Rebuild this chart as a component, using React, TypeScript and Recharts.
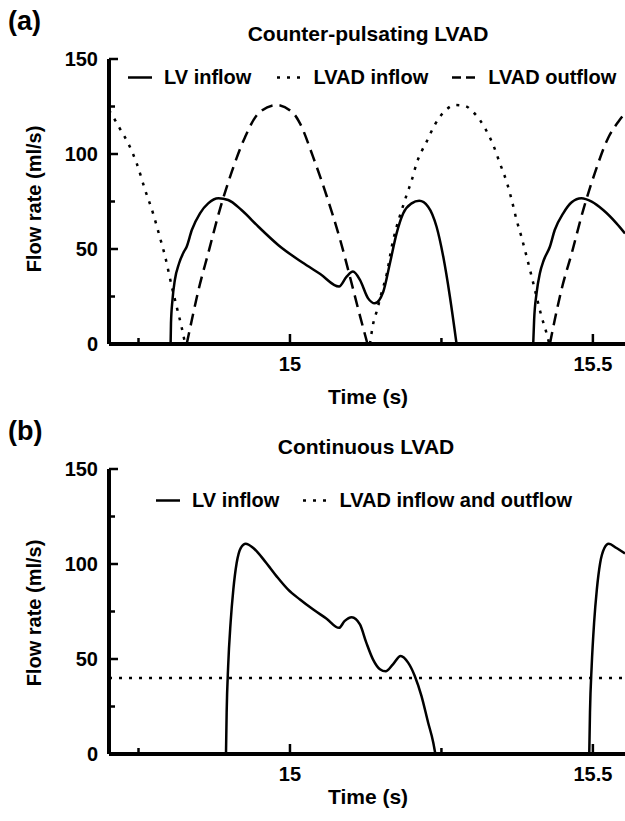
import React from 'react';
import { LineChart, Line, XAxis, YAxis } from 'recharts';

// [time (s), flow (ml/s)]; null = curve sits on the axis
type Pt = [number, number | null];

const lvInflowA: Pt[] = [
  [14.803, 0], [14.8036, 11], [14.806, 23], [14.81, 33.7], [14.817, 42.5], [14.825, 48.6],
  [14.8295, 51.2], [14.838, 60], [14.8515, 68.8], [14.865, 74], [14.882, 76.7], [14.898, 75.8],
  [14.92, 70.5], [14.948, 61.7], [14.981, 52], [15.02, 43], [15.05, 36.8], [15.081, 30.2],
  [15.0935, 35.4], [15.104, 38.1], [15.1155, 33.7], [15.129, 24], [15.14, 21.4], [15.154, 27.5],
  [15.165, 42.5], [15.176, 58.2], [15.187, 68.8], [15.2008, 74], [15.2134, 75.4], [15.228, 72.3],
  [15.242, 61.7], [15.253, 46], [15.264, 24.9], [15.275, 0],
  [15.34, null],
  [15.4015, 0], [15.403, 12.6], [15.407, 26.7], [15.4125, 37.2], [15.419, 44.2], [15.429, 51.2],
  [15.437, 60], [15.451, 68.8], [15.465, 74.6], [15.481, 76.7], [15.498, 74.9], [15.517, 70.5],
  [15.539, 63.5], [15.553, 58.2],
];

const lvadInflowA: Pt[] = [
  [14.7013, 123], [14.711, 118], [14.719, 113.5], [14.733, 105.6], [14.747, 95.1], [14.761, 81],
  [14.774, 68.8], [14.785, 56.5], [14.794, 46], [14.805, 30.2], [14.813, 19.6], [14.821, 9.1],
  [14.827, 0],
  [14.98, null],
  [15.132, 0], [15.1375, 10.9], [15.143, 17], [15.151, 26.7], [15.16, 37.2], [15.168, 51.2],
  [15.176, 61.7], [15.184, 70], [15.1926, 78.5], [15.2008, 86], [15.209, 95.1], [15.217, 101.2],
  [15.2256, 106.5], [15.232, 110.9], [15.239, 115.3], [15.2475, 119.6], [15.2586, 123.5],
  [15.272, 125.8], [15.289, 125.3], [15.3025, 122], [15.3135, 117.9], [15.322, 113.5],
  [15.3355, 104.7], [15.3465, 95.1], [15.3576, 85.4], [15.366, 75.8], [15.374, 65.3],
  [15.382, 56.5], [15.3906, 46], [15.399, 35.4], [15.407, 24.9], [15.4153, 14.4], [15.4236, 5.6],
  [15.428, 0],
];

const lvadOutflowA: Pt[] = [
  [14.8295, 0], [14.838, 12.6], [14.849, 28.4], [14.865, 47.7], [14.884, 70.5], [14.904, 90.7],
  [14.926, 109], [14.948, 121.4], [14.978, 125.8], [15.008, 120.5], [15.0165, 116.1],
  [15.038, 98.6], [15.061, 77.5], [15.083, 54.7], [15.099, 35.4], [15.113, 17.9], [15.128, 0],
  [15.28, null],
  [15.429, 0], [15.437, 12.6], [15.448, 28.4], [15.465, 47.7], [15.484, 70.5], [15.503, 89.8],
  [15.525, 108.3], [15.542, 117], [15.553, 121.5],
];

const lvInflowB: Pt[] = [
  [14.8944, 0], [14.8955, 21.9], [14.898, 46.3], [14.902, 69.1], [14.9065, 86.5], [14.912, 100.5],
  [14.9187, 108.4], [14.927, 110.7], [14.9395, 108.4], [14.9588, 101.4], [14.978, 93.5],
  [14.997, 86.5], [15.0165, 81.3], [15.0385, 76], [15.0605, 71.2], [15.081, 66.4], [15.09, 69.9],
  [15.102, 72], [15.1155, 68.2], [15.126, 58.6], [15.137, 49.8], [15.1485, 44.6], [15.158, 43.5],
  [15.17, 47.2], [15.1827, 51.6], [15.195, 48.1], [15.206, 41.1], [15.217, 30.6], [15.228, 16.6],
  [15.2365, 6.1], [15.24, 0],
  [15.37, null],
  [15.494, 0], [15.4952, 21.9], [15.498, 46.3], [15.502, 69.1], [15.5065, 86.5], [15.512, 100.5],
  [15.519, 108.4], [15.526, 110.7], [15.539, 108.4], [15.553, 105.5],
];

const lvadFlowB: Pt[] = [[14.7013, 40], [15.553, 40]];

const X_DOMAIN = [14.7013, 15.553];
const X_TICKS = [14.75, 15, 15.25, 15.5];
const X_LABELS = [15, 15.5];
const Y_TICKS = [0, 25, 50, 75, 100, 125, 150];
const Y_LABELS = [0, 50, 100, 150];

const toRows = (pts: Pt[]) => pts.map(([t, v]) => ({ t, v }));

const FONT = '"Liberation Sans", Arial, Helvetica, sans-serif';
const DOTTED = '3 7';
const DASHED = '12 7';

const YTick = (props: any) => {
  const { x, y, payload } = props;
  const major = Y_LABELS.includes(payload.value);
  return (
    <g>
      <line x1={x} y1={y} x2={x + (major ? 9 : 6)} y2={y} stroke="#000" strokeWidth={2.5} />
      {major && (
        <text x={x - 11} y={y} dy="0.36em" textAnchor="end" fontSize={20} fontWeight="bold" fontFamily={FONT} fill="#000">
          {payload.value}
        </text>
      )}
    </g>
  );
};

const XTick = (props: any) => {
  const { x, y, payload } = props;
  const major = X_LABELS.includes(payload.value);
  return (
    <g>
      <line x1={x} y1={y} x2={x} y2={y - (major ? 10 : 6)} stroke="#000" strokeWidth={2.5} />
      {major && (
        <text x={x} y={y + 20} dy="0.36em" textAnchor="middle" fontSize={20} fontWeight="bold" fontFamily={FONT} fill="#000">
          {payload.value}
        </text>
      )}
    </g>
  );
};

const Sample = ({ dash }: { dash?: string }) => (
  <svg width={24} height={6} style={{ marginRight: 12 }}>
    <line x1={0} y1={3} x2={24} y2={3} stroke="#000" strokeWidth={2.5} strokeDasharray={dash} />
  </svg>
);

const legendText: React.CSSProperties = { fontSize: 20, fontWeight: 'bold', whiteSpace: 'nowrap' };

const Panel = ({ series, top }: { series: { data: Pt[]; dash?: string }[]; top: number }) => (
  <div style={{ position: 'absolute', left: 0, top }}>
    <LineChart width={625} height={420} margin={{ top: 59, right: 0, bottom: 46, left: 49 }}>
      <XAxis
        dataKey="t"
        type="number"
        domain={X_DOMAIN}
        allowDataOverflow
        ticks={X_TICKS}
        interval={0}
        tickSize={0}
        tickMargin={0}
        tickLine={false}
        tick={XTick}
        axisLine={{ stroke: '#000', strokeWidth: 4 }}
      />
      <YAxis
        type="number"
        domain={[0, 150]}
        ticks={Y_TICKS}
        interval={0}
        tickSize={0}
        tickMargin={0}
        tickLine={false}
        tick={YTick}
        axisLine={{ stroke: '#000', strokeWidth: 4 }}
      />
      {series.map((s, i) => (
        <Line
          key={i}
          data={toRows(s.data)}
          dataKey="v"
          type="monotone"
          stroke="#000"
          strokeWidth={2.5}
          strokeDasharray={s.dash}
          dot={false}
          activeDot={false}
          connectNulls={false}
          isAnimationActive={false}
        />
      ))}
    </LineChart>
  </div>
);

const Abs = ({ x, y, children, style }: { x: number; y: number; children: React.ReactNode; style?: React.CSSProperties }) => (
  <div style={{ position: 'absolute', left: x, top: y, transform: 'translate(-50%, -50%)', whiteSpace: 'nowrap', ...style }}>
    {children}
  </div>
);

const App = () => (
  <div style={{ position: 'absolute', left: 0, top: 0, width: 625, height: 821, overflow: 'hidden', background: '#fff', fontFamily: FONT, color: '#000' }}>
    <Panel
      top={0}
      series={[
        { data: lvInflowA },
        { data: lvadInflowA, dash: DOTTED },
        { data: lvadOutflowA, dash: DASHED },
      ]}
    />
    <Panel top={410} series={[{ data: lvInflowB }, { data: lvadFlowB, dash: DOTTED }]} />

    <div style={{ position: 'absolute', left: 8, top: 6, fontSize: 27, fontWeight: 'bold' }}>(a)</div>
    <Abs x={368} y={34} style={{ fontSize: 21, fontWeight: 'bold' }}>Counter-pulsating LVAD</Abs>
    <Abs x={34} y={199} style={{ fontSize: 20, fontWeight: 'bold', transform: 'translate(-50%, -50%) rotate(-90deg)' }}>
      Flow rate (ml/s)
    </Abs>
    <Abs x={368} y={397} style={{ fontSize: 21, fontWeight: 'bold' }}>Time (s)</Abs>
    <div style={{ position: 'absolute', left: 128, top: 77, transform: 'translateY(-50%)', display: 'flex', alignItems: 'center' }}>
      <Sample />
      <span style={legendText}>LV inflow</span>
      <span style={{ width: 26 }} />
      <Sample dash={DOTTED} />
      <span style={legendText}>LVAD inflow</span>
      <span style={{ width: 24 }} />
      <Sample dash="9 5" />
      <span style={legendText}>LVAD outflow</span>
    </div>

    <div style={{ position: 'absolute', left: 8, top: 416, fontSize: 27, fontWeight: 'bold' }}>(b)</div>
    <Abs x={366} y={447} style={{ fontSize: 21, fontWeight: 'bold' }}>Continuous LVAD</Abs>
    <Abs x={34} y={613} style={{ fontSize: 20, fontWeight: 'bold', transform: 'translate(-50%, -50%) rotate(-90deg)' }}>
      Flow rate (ml/s)
    </Abs>
    <Abs x={368} y={797} style={{ fontSize: 21, fontWeight: 'bold' }}>Time (s)</Abs>
    <div style={{ position: 'absolute', left: 156, top: 500, transform: 'translateY(-50%)', display: 'flex', alignItems: 'center' }}>
      <Sample />
      <span style={legendText}>LV inflow</span>
      <span style={{ width: 24 }} />
      <Sample dash={DOTTED} />
      <span style={legendText}>LVAD inflow and outflow</span>
    </div>
  </div>
);

export default App;
